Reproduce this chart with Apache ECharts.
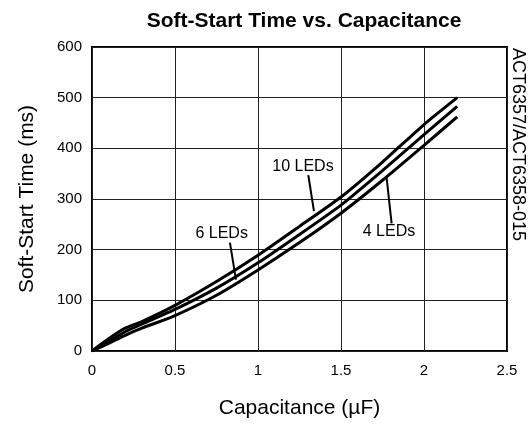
<!DOCTYPE html>
<html><head><meta charset="utf-8">
<script src="https://cdn.jsdelivr.net/npm/echarts@6/dist/echarts.min.js"></script>
<style>html,body{margin:0;padding:0;background:#fff}#c{width:528px;height:430px}</style>
</head><body><div id="c"></div>
<script>
var titleText = "Soft-Start Time vs. Capacitance";
var xName = "Capacitance (µF)";
var yName = "Soft-Start Time (ms)";
var sideText = "ACT6357/ACT6358-015";
var cap10 = [0, 0.1, 0.2, 0.3, 0.5, 0.75, 1.0, 1.25, 1.5, 1.75, 2.0, 2.2];
var leds10 = [0, 24, 45, 58, 90, 137, 189, 246, 304, 373, 447, 500];
var leds6  = [0, 19, 38, 53, 82, 124, 174, 230, 288, 356, 427, 483];
var leds4  = [0, 15, 31, 45, 70, 110, 160, 214, 272, 337, 406, 462];
var seriesNames = ["10 LEDs", "6 LEDs", "4 LEDs"];
// annotations: label position and leader line, in data coordinates
var annLabels = [[1.271, 363], [0.781, 232], [1.789, 235]];
var annLeadFrom = [[1.303, 347], [0.831, 214], [1.805, 252]];
var annLeadTo = [[1.337, 276], [0.867, 141], [1.775, 341]];

function pairs(xs, ys){ return xs.map(function(x,i){ return [x, ys[i]]; }); }
var chart = echarts.init(document.getElementById('c'), null, {renderer:'canvas'});
var font = 'Liberation Sans, Arial, sans-serif';
function mk(name, ys){
  return {name:name, type:'line', data:pairs(cap10, ys), smooth:0.2, showSymbol:false,
    lineStyle:{color:'#000', width:3}, itemStyle:{color:'#000'}};
}
chart.setOption({
  backgroundColor:'#fff',
  animation:false,
  title:{text:titleText, left:299, textAlign:'center', top:6,
    textStyle:{fontFamily:font, fontSize:21, fontWeight:'bold', color:'#000'}},
  grid:{left:92, right:21, top:47, bottom:79, show:true, borderColor:'#000', borderWidth:2, backgroundColor:'transparent'},
  xAxis:{type:'value', min:0, max:2.5, interval:0.5, name:xName, nameLocation:'middle', nameGap:47,
    nameTextStyle:{fontFamily:font, fontSize:21, color:'#000'},
    axisLine:{show:false}, axisTick:{show:false},
    axisLabel:{fontFamily:font, fontSize:15, color:'#000', margin:12},
    splitLine:{show:true, lineStyle:{color:'#222', width:1}}},
  yAxis:{type:'value', min:0, max:600, interval:100, name:yName, nameLocation:'middle', nameGap:54,
    nameTextStyle:{fontFamily:font, fontSize:21, color:'#000'},
    axisLine:{show:false}, axisTick:{show:false},
    axisLabel:{fontFamily:font, fontSize:15, color:'#000', margin:10},
    splitLine:{show:true, lineStyle:{color:'#222', width:1}}},
  series:[mk(seriesNames[0], leds10), mk(seriesNames[1], leds6), mk(seriesNames[2], leds4)]
});
var g = [];
for (var i=0;i<seriesNames.length;i++){
  var p = chart.convertToPixel({gridIndex:0}, annLabels[i]);
  var a = chart.convertToPixel({gridIndex:0}, annLeadFrom[i]);
  var b = chart.convertToPixel({gridIndex:0}, annLeadTo[i]);
  g.push({type:'text', x:p[0], y:p[1], style:{text:seriesNames[i], font:'16px '+font, fill:'#000', align:'center', verticalAlign:'middle'}});
  g.push({type:'line', shape:{x1:a[0], y1:a[1], x2:b[0], y2:b[1]}, style:{stroke:'#000', lineWidth:2}});
}
g.push({type:'text', x:518, y:48, rotation:-Math.PI/2, style:{text:sideText, font:'18px '+font, fill:'#000', align:'left', verticalAlign:'middle'}});
chart.setOption({graphic:g});
</script></body></html>
